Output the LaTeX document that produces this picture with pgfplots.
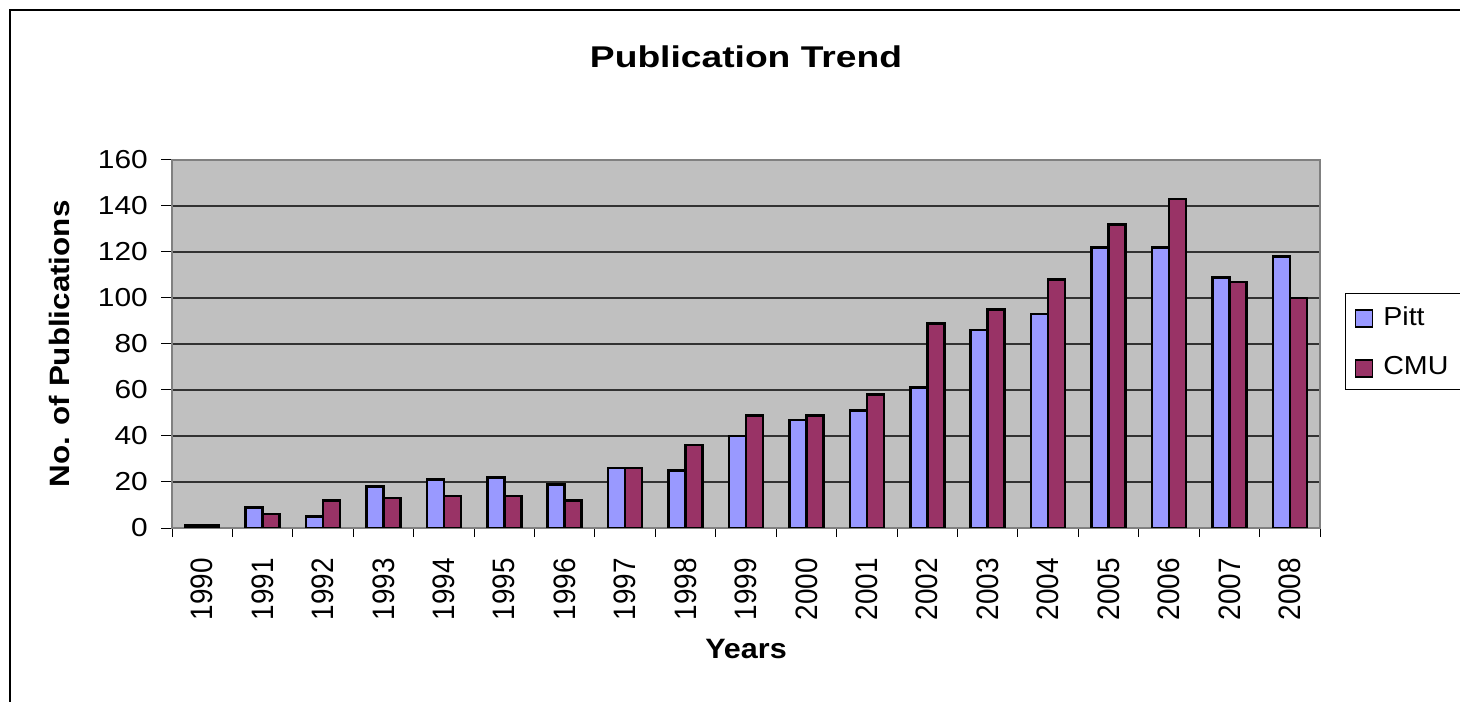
\documentclass[border=0pt]{standalone}
\usepackage{pgfplots}
\pgfplotsset{compat=1.18}
\usepackage{fontspec}
\setmainfont{Liberation Sans}
\newfontfamily\ytickfont[FakeStretch=1.15]{Liberation Sans}
\newfontfamily\xtickfont[FakeStretch=0.9]{Liberation Sans}
\newfontfamily\titlefont[FakeStretch=1.24]{Liberation Sans}
\newfontfamily\xlabfont[FakeStretch=1.09]{Liberation Sans}
\newfontfamily\ylabfont[FakeStretch=1.12]{Liberation Sans}
\newfontfamily\legfont[FakeStretch=1.1]{Liberation Sans}
\definecolor{plotbg}{RGB}{192,192,192}
\definecolor{pitt}{RGB}{153,153,255}
\definecolor{cmu}{RGB}{153,51,102}
\definecolor{framegray}{RGB}{128,128,128}
\definecolor{gridcol}{RGB}{50,50,50}
\begin{document}
\begin{tikzpicture}
\useasboundingbox (0,0) rectangle (1460bp,702bp);
\fill[white] (0,0) rectangle (1460bp,702bp);
\draw[line width=2.5bp] (10bp,-20bp) -- (10bp,692bp) -- (1480bp,692bp);
\begin{axis}[
  at={(172bp,174bp)}, anchor=south west,
  width=1148bp, height=368bp, scale only axis,
  xmin=-0.5, xmax=18.5, ymin=0, ymax=160,
  ybar=0pt, bar width=17bp,
  tick pos=left,
  xtick={0,...,18},
  xticklabels={1990,1991,1992,1993,1994,1995,1996,1997,1998,1999,2000,2001,2002,2003,2004,2005,2006,2007,2008},
  minor xtick={-0.5,0.5,...,18.5},
  every major x tick/.append style={draw=none},
  every minor x tick/.append style={draw=black, line width=1bp},
  minor tick length=9bp,
  major tick length=11bp,
  tick align=outside,
  tick style={draw=black, line width=1bp},
  ytick={0,20,...,160},
  ymajorgrids,
  grid style={gridcol, line width=1.2bp},
  axis background/.style={fill=plotbg},
  axis line style={draw=framegray, line width=1.5bp},
  /pgf/number format/assume math mode=true,
  yticklabel style={font=\ytickfont\fontsize{26bp}{30bp}\selectfont, anchor=east, inner sep=0pt, xshift=-13bp},
  xticklabel shift=19bp,
  xticklabel style={font=\xtickfont\fontsize{31bp}{36bp}\selectfont, rotate=90, anchor=east, inner sep=0pt},
  title={Publication Trend},
  title style={at={(axis description cs:0.5,1.234)}, anchor=base, font=\titlefont\bfseries\fontsize{30bp}{36bp}\selectfont},
  xlabel={Years},
  xlabel style={at={(axis description cs:0.5,-0.354)}, anchor=base, font=\xlabfont\bfseries\fontsize{28bp}{34bp}\selectfont},
  ylabel={No. of Publications},
  ylabel style={at={(axis description cs:-0.0976,0.5)}, anchor=center, font=\ylabfont\bfseries\fontsize{28bp}{34bp}\selectfont},
  legend cell align=left,
  legend style={at={(axis description cs:1.0218,0.6386)}, anchor=north west,
    draw=black, line width=1bp, fill=white,
    font=\legfont\fontsize{26bp}{30bp}\selectfont,
    inner xsep=9bp, inner ysep=11bp,
    nodes={inner sep=2bp, text depth=0.15em},
    row sep=26bp, column sep=8bp},
]
\addplot[fill=pitt, draw=black, line width=2.5bp,
  legend image code/.code={\draw[fill=pitt, draw=black, line width=1.8bp] (0bp,-10bp) rectangle (17bp,7bp);}]
  coordinates {(0,1) (1,9) (2,5) (3,18) (4,21) (5,22) (6,19) (7,26) (8,25) (9,40) (10,47) (11,51) (12,61) (13,86) (14,93) (15,122) (16,122) (17,109) (18,118)};
\addlegendentry{\makebox[70bp][l]{Pitt}}
\addplot[fill=cmu, draw=black, line width=2.5bp,
  legend image code/.code={\draw[fill=cmu, draw=black, line width=1.8bp] (0bp,-10bp) rectangle (17bp,7bp);}]
  coordinates {(0,1) (1,6) (2,12) (3,13) (4,14) (5,14) (6,12) (7,26) (8,36) (9,49) (10,49) (11,58) (12,89) (13,95) (14,108) (15,132) (16,143) (17,107) (18,100)};
\addlegendentry{\makebox[70bp][l]{CMU}}
\end{axis}
\end{tikzpicture}
\end{document}
